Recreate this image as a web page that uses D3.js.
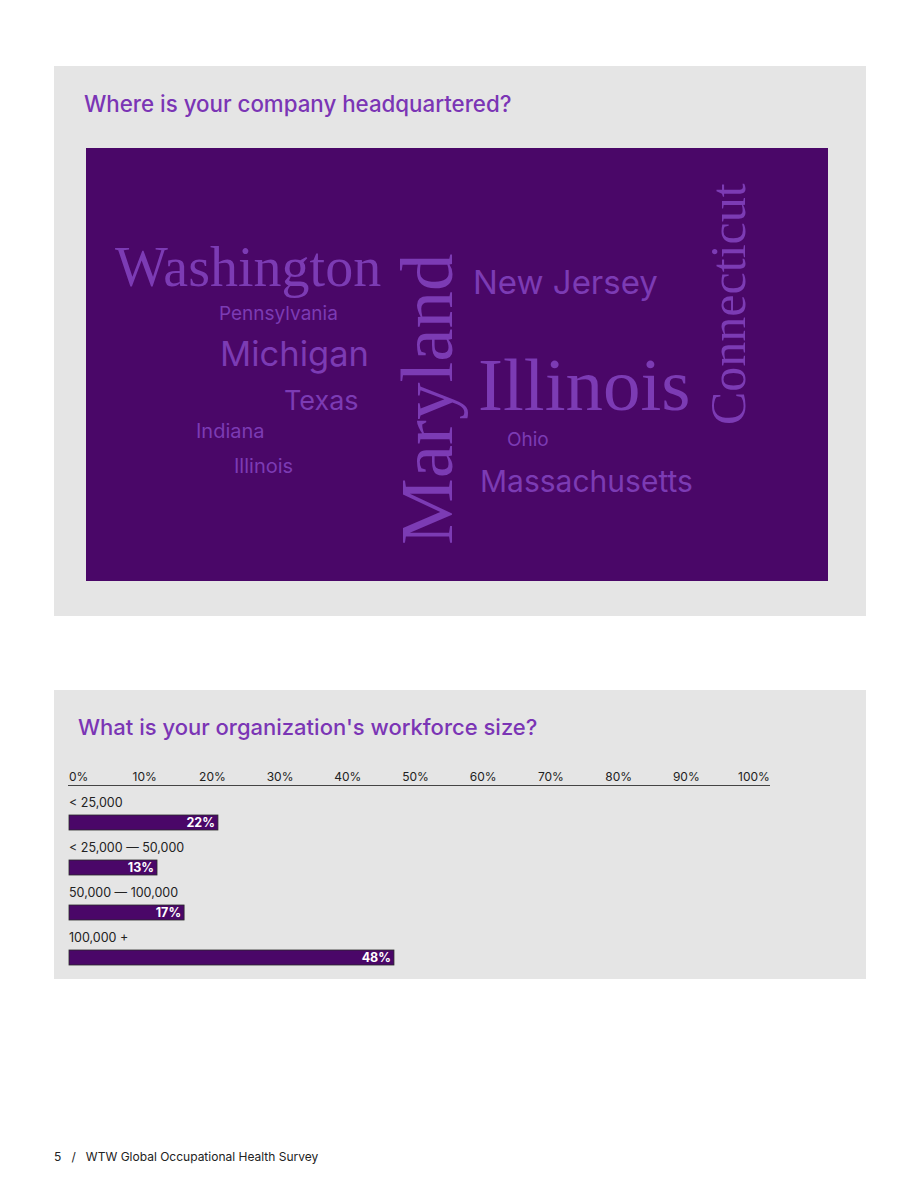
<!DOCTYPE html>
<html><head><meta charset="utf-8">
<script src="https://cdn.jsdelivr.net/npm/d3@7"></script>
<style>
html,body{margin:0;padding:0;background:#fff;}
svg{display:block;}
</style></head>
<body>
<script>
// ---- Data ----
const states = ["Washington","Pennsylvania","Michigan","Texas","Indiana","Illinois","Maryland","New Jersey","Illinois","Ohio","Massachusetts","Connecticut"];
const stateWeights = [56,19,34.5,27,20,20,75,33,75,19,30,50];
const stateSerif = [true,false,false,false,false,false,true,false,true,false,false,true];

const sizeCategories = ["< 25,000","< 25,000 \u2014 50,000","50,000 \u2014 100,000","100,000 +"];
const sizeValues = [22,13,17,48];
const tickValues = [0,10,20,30,40,50,60,70,80,90,100];
const tickLabels = ["0%","10%","20%","30%","40%","50%","60%","70%","80%","90%","100%"];

// ---- Layout (positions only) ----
const cloudLayout = [
  {x:115,y:286,r:0},{x:219,y:320,r:0},{x:220,y:366,r:0},{x:284,y:410,r:0},
  {x:196,y:438,r:0},{x:234,y:473,r:0},{x:452,y:545,r:-90},{x:473,y:294,r:0},
  {x:478,y:410,r:0},{x:507,y:446,r:0},{x:480,y:492,r:0},{x:745,y:425,r:-90}
];

const W=920,H=1191;
const svg=d3.select("body").append("svg").attr("width",W).attr("height",H);
const SANS="Inter, 'Noto Sans', sans-serif";
const SERIF="'Liberation Serif', 'DejaVu Serif', serif";
const titleColor="#7b35b5";
const darkPurple="#4a0768";
const wordColor="#7c3bb4";

// Panel 1
svg.append("rect").attr("x",54).attr("y",66).attr("width",812).attr("height",550).attr("fill","#e5e5e5");
svg.append("text").attr("x",84).attr("y",112).attr("font-family",SANS).attr("font-size",22.3).attr("font-weight",500)
  .attr("fill",titleColor).text("Where is your company headquartered?");
svg.append("rect").attr("x",86).attr("y",148).attr("width",742).attr("height",433).attr("fill",darkPurple);

const fs=d3.scaleLinear().domain([0,1]).range([0,1]);
svg.append("g").selectAll("text").data(states).join("text")
  .attr("transform",(d,i)=>`translate(${cloudLayout[i].x},${cloudLayout[i].y}) rotate(${cloudLayout[i].r})`)
  .attr("font-family",(d,i)=>stateSerif[i]?SERIF:SANS)
  .attr("font-size",(d,i)=>fs(stateWeights[i]))
  .attr("fill",wordColor)
  .text(d=>d);

// Panel 2
svg.append("rect").attr("x",54).attr("y",690).attr("width",812).attr("height",289).attr("fill","#e5e5e5");
svg.append("text").attr("x",78).attr("y",735).attr("font-family",SANS).attr("font-size",22).attr("font-weight",500)
  .attr("fill",titleColor).text("What is your organization's workforce size?");

const x=d3.scaleLinear().domain([0,100]).range([69,746]);
const axisG=svg.append("g");
axisG.append("line").attr("x1",68).attr("x2",770).attr("y1",785.5).attr("y2",785.5).attr("stroke","#444").attr("stroke-width",1.2);
axisG.selectAll("text").data(tickValues).join("text")
  .attr("x",(d,i)=> i===0? x(d) : x(d)+8)
  .attr("text-anchor",(d,i)=> i===0?"start":"middle")
  .attr("y",781).attr("font-family",SANS).attr("font-size",12).attr("fill","#222")
  .text((d,i)=>tickLabels[i]);

const rowY=d3.scaleBand().domain(sizeCategories).range([790,970]).paddingInner(0).paddingOuter(0);
const rows=svg.append("g").selectAll("g").data(sizeCategories).join("g")
  .attr("transform",d=>`translate(0,${rowY(d)})`);
rows.append("text").attr("x",69).attr("y",17).attr("font-family",SANS).attr("font-size",12.5).attr("fill","#222").text(d=>d);
rows.append("rect").attr("x",x(0)).attr("y",25).attr("height",15)
  .attr("width",(d,i)=>x(sizeValues[i])-x(0))
  .attr("fill",darkPurple).attr("stroke","#2a2a2a").attr("stroke-width",0.8);
rows.append("text").attr("x",(d,i)=>x(sizeValues[i])-3).attr("y",37).attr("text-anchor","end")
  .attr("font-family",SANS).attr("font-size",12.5).attr("font-weight",700).attr("fill","#fff")
  .text((d,i)=>sizeValues[i]+"%");

// Footer
svg.append("text").attr("x",54).attr("y",1161).attr("font-family",SANS).attr("font-size",12).attr("fill","#222")
  .attr("xml:space","preserve").text("5   /   WTW Global Occupational Health Survey");
</script>
</body></html>
